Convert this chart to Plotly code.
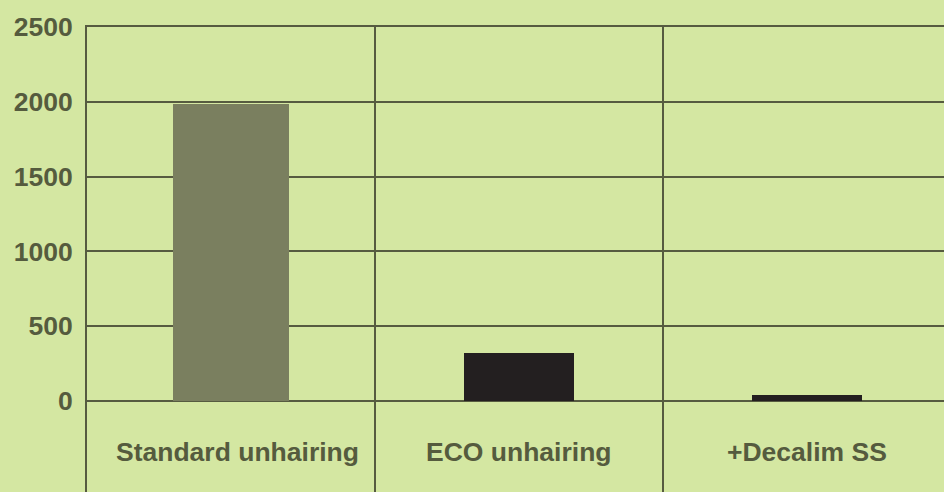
import plotly.graph_objects as go

categories = ["Standard unhairing", "ECO unhairing", "+Decalim SS"]
values = [1985, 320, 40]
bar_colors = ["#7a7f5f", "#231f20", "#231f20"]
y_ticks = [0, 500, 1000, 1500, 2000, 2500]
y_tick_labels = ["0", "500", "1000", "1500", "2000", "2500"]

TEXT = "#555b3e"
GRID = "#565b40"
BG = "#d4e7a2"
FONT = "Liberation Sans, Arial, sans-serif"

x_pos = list(range(1, len(categories) + 1))
label_xshift = [6, 0, 0]

fig = go.Figure()
fig.add_trace(go.Bar(
    x=x_pos, y=values, width=[0.4, 0.385, 0.385],
    marker=dict(color=bar_colors, line=dict(width=0)),
    hoverinfo="skip", showlegend=False,
))

for xp, cat, xs in zip(x_pos, categories, label_xshift):
    fig.add_annotation(x=xp, y=-340, text=f"<b>{cat}</b>", showarrow=False,
                       xanchor="center", yanchor="middle", xshift=xs,
                       font=dict(family=FONT, size=26.5, color=TEXT))

fig.update_layout(
    width=944, height=492,
    margin=dict(l=87, r=0, t=27, b=0, pad=0),
    paper_bgcolor=BG, plot_bgcolor=BG,
    bargap=0,
    xaxis=dict(
        range=[0.5, 3.4757], side="top",
        tickvals=[1.5, 2.5], showticklabels=False, ticks="",
        showgrid=True, gridcolor=GRID, gridwidth=2,
        showline=True, linecolor=GRID, linewidth=2,
        zeroline=False,
    ),
    yaxis=dict(
        range=[-609, 2500],
        tickvals=y_ticks, ticktext=[f"<b>{t}</b>" for t in y_tick_labels],
        tickfont=dict(family=FONT, size=26.5, color=TEXT),
        ticks="", ticklabelstandoff=7,
        showgrid=True, gridcolor=GRID, gridwidth=2,
        showline=True, linecolor=GRID, linewidth=2,
        zeroline=False,
    ),
)

fig.write_html(
    "out.html",
    config={"displayModeBar": False},
    post_script="document.body.style.margin='0';document.body.style.background='" + BG + "';",
)
